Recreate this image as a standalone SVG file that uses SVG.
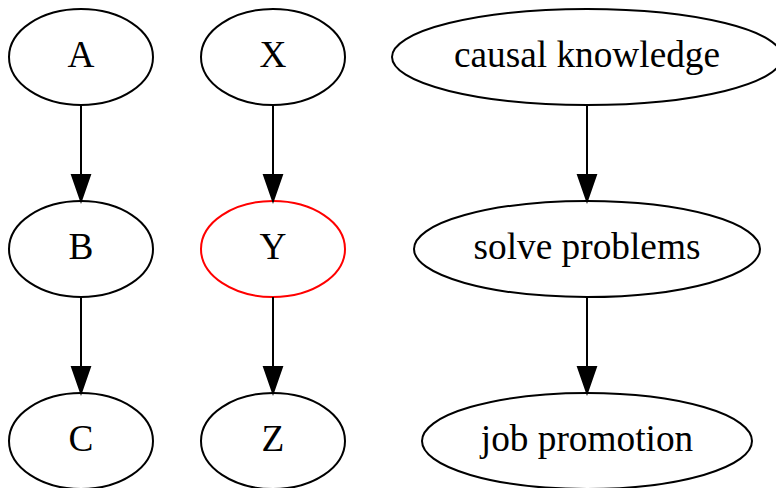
<svg xmlns="http://www.w3.org/2000/svg" width="776" height="488" viewBox="0 0 776 488">
<defs>
<style>
.n ellipse{fill:none;stroke:#000;stroke-width:2}
.n text{font-family:"Liberation Serif","Times New Roman",serif;font-size:37.3px;text-anchor:middle;fill:#000}
.e line{stroke:#000;stroke-width:2}
.e polygon{fill:#000;stroke:#000;stroke-width:2}
</style>
</defs>
<rect width="776" height="488" fill="#fff"/>
<g id="A" class="n"><ellipse cx="81" cy="57" rx="72" ry="48"/><text x="81" y="67">A</text></g>
<g id="B" class="n"><ellipse cx="81" cy="249" rx="72" ry="48"/><text x="81" y="259">B</text></g>
<g id="C" class="n"><ellipse cx="81" cy="441" rx="72" ry="48"/><text x="81" y="451">C</text></g>
<g id="X" class="n"><ellipse cx="273" cy="57" rx="72" ry="48"/><text x="273" y="67">X</text></g>
<g id="Y" class="n"><ellipse cx="273" cy="249" rx="72" ry="48" style="stroke:#ff0000"/><text x="273" y="259">Y</text></g>
<g id="Z" class="n"><ellipse cx="273" cy="441" rx="72" ry="48"/><text x="273" y="451">Z</text></g>
<g id="causal_knowledge" class="n"><ellipse cx="587" cy="57" rx="195" ry="48"/><text x="587" y="67">causal knowledge</text></g>
<g id="solve_problems" class="n"><ellipse cx="587" cy="249" rx="173" ry="48"/><text x="587" y="259">solve problems</text></g>
<g id="job_promotion" class="n"><ellipse cx="587" cy="441" rx="165" ry="48"/><text x="587" y="451">job promotion</text></g>
<g id="edges" class="e">
<line x1="81" y1="105" x2="81" y2="175"/><polygon points="72,175 90,175 81,201"/>
<line x1="81" y1="297" x2="81" y2="367"/><polygon points="72,367 90,367 81,393"/>
<line x1="273" y1="105" x2="273" y2="175"/><polygon points="264,175 282,175 273,201"/>
<line x1="273" y1="297" x2="273" y2="367"/><polygon points="264,367 282,367 273,393"/>
<line x1="587" y1="105" x2="587" y2="175"/><polygon points="578,175 596,175 587,201"/>
<line x1="587" y1="297" x2="587" y2="367"/><polygon points="578,367 596,367 587,393"/>
</g>
</svg>
